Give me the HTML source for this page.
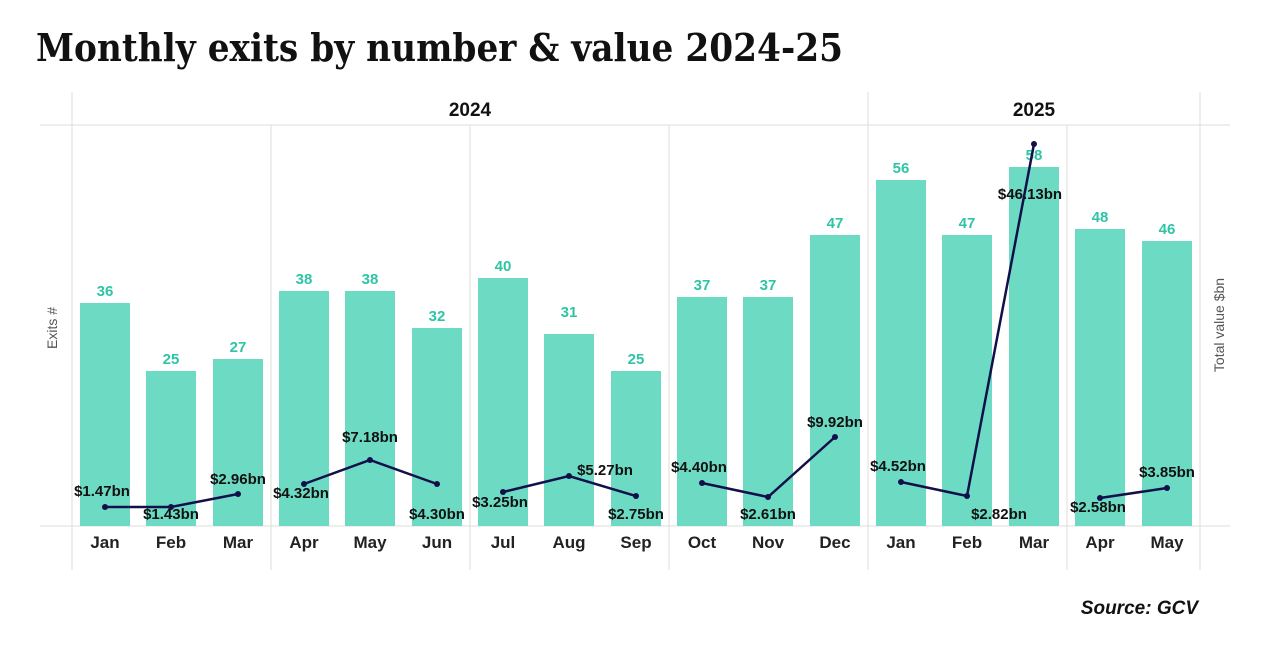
<!DOCTYPE html>
<html><head><style>
body{margin:0;background:#fff;}
svg text{font-family:"Liberation Sans",sans-serif;}
</style></head><body>
<svg width="1269" height="650" xmlns="http://www.w3.org/2000/svg">
<text x="36" y="61" font-weight="bold" font-size="38" textLength="807" lengthAdjust="spacingAndGlyphs" style="font-family:'DejaVu Serif',serif;font-style:normal" fill="#111">Monthly exits by number &amp; value 2024-25</text>
<g stroke="#ddd" stroke-width="1">
<line x1="40" y1="125" x2="1230" y2="125"/>
<line x1="40" y1="526" x2="1230" y2="526"/>
<line x1="72" y1="92" x2="72" y2="570"/>
<line x1="271" y1="125" x2="271" y2="570"/>
<line x1="470" y1="125" x2="470" y2="570"/>
<line x1="669" y1="125" x2="669" y2="570"/>
<line x1="868" y1="92" x2="868" y2="570"/>
<line x1="1067" y1="125" x2="1067" y2="570"/>
<line x1="1200" y1="92" x2="1200" y2="570"/>
</g>
<text x="470" y="116" text-anchor="middle" font-weight="bold" font-size="19" fill="#111">2024</text>
<text x="1034" y="116" text-anchor="middle" font-weight="bold" font-size="19" fill="#111">2025</text>
<g fill="#6ddbc4">
<rect x="80" y="303" width="50" height="223"/>
<rect x="146" y="371" width="50" height="155"/>
<rect x="213" y="359" width="50" height="167"/>
<rect x="279" y="291" width="50" height="235"/>
<rect x="345" y="291" width="50" height="235"/>
<rect x="412" y="328" width="50" height="198"/>
<rect x="478" y="278" width="50" height="248"/>
<rect x="544" y="334" width="50" height="192"/>
<rect x="611" y="371" width="50" height="155"/>
<rect x="677" y="297" width="50" height="229"/>
<rect x="743" y="297" width="50" height="229"/>
<rect x="810" y="235" width="50" height="291"/>
<rect x="876" y="180" width="50" height="346"/>
<rect x="942" y="235" width="50" height="291"/>
<rect x="1009" y="167" width="50" height="359"/>
<rect x="1075" y="229" width="50" height="297"/>
<rect x="1142" y="241" width="50" height="285"/>
</g>
<g fill="#2ec4a5" font-weight="bold" font-size="15" text-anchor="middle">
<text x="105" y="296">36</text><text x="171" y="364">25</text><text x="238" y="352">27</text>
<text x="304" y="284">38</text><text x="370" y="284">38</text><text x="437" y="321">32</text>
<text x="503" y="271">40</text><text x="569" y="317">31</text><text x="636" y="364">25</text>
<text x="702" y="290">37</text><text x="768" y="290">37</text><text x="835" y="228">47</text>
<text x="901" y="173">56</text><text x="967" y="228">47</text><text x="1034" y="160">58</text>
<text x="1100" y="222">48</text><text x="1167" y="234">46</text>
</g>
<g stroke="#12104a" stroke-width="2.5" fill="none">
<polyline points="105,507 171,507 238,494"/>
<polyline points="304,484 370,460 437,484"/>
<polyline points="503,492 569,476 636,496"/>
<polyline points="702,483 768,497 835,437"/>
<polyline points="901,482 967,496 1034,144"/>
<polyline points="1100,498 1167,488"/>
</g>
<g fill="#12104a">
<circle cx="105" cy="507" r="3"/><circle cx="171" cy="507" r="3"/><circle cx="238" cy="494" r="3"/>
<circle cx="304" cy="484" r="3"/><circle cx="370" cy="460" r="3"/><circle cx="437" cy="484" r="3"/>
<circle cx="503" cy="492" r="3"/><circle cx="569" cy="476" r="3"/><circle cx="636" cy="496" r="3"/>
<circle cx="702" cy="483" r="3"/><circle cx="768" cy="497" r="3"/><circle cx="835" cy="437" r="3"/>
<circle cx="901" cy="482" r="3"/><circle cx="967" cy="496" r="3"/><circle cx="1034" cy="144" r="3"/>
<circle cx="1100" cy="498" r="3"/><circle cx="1167" cy="488" r="3"/>
</g>
<g fill="#111" font-weight="bold" font-size="15" text-anchor="middle">
<text x="102" y="496">$1.47bn</text><text x="171" y="519">$1.43bn</text><text x="238" y="484">$2.96bn</text>
<text x="301" y="498">$4.32bn</text><text x="370" y="442">$7.18bn</text><text x="437" y="519">$4.30bn</text>
<text x="500" y="507">$3.25bn</text><text x="605" y="475">$5.27bn</text><text x="636" y="519">$2.75bn</text>
<text x="699" y="472">$4.40bn</text><text x="768" y="519">$2.61bn</text><text x="835" y="427">$9.92bn</text>
<text x="898" y="471">$4.52bn</text><text x="999" y="519">$2.82bn</text><text x="1030" y="199">$46.13bn</text>
<text x="1098" y="512">$2.58bn</text><text x="1167" y="477">$3.85bn</text>
</g>
<g fill="#222" font-weight="bold" font-size="17" text-anchor="middle">
<text x="105" y="548">Jan</text><text x="171" y="548">Feb</text><text x="238" y="548">Mar</text>
<text x="304" y="548">Apr</text><text x="370" y="548">May</text><text x="437" y="548">Jun</text>
<text x="503" y="548">Jul</text><text x="569" y="548">Aug</text><text x="636" y="548">Sep</text>
<text x="702" y="548">Oct</text><text x="768" y="548">Nov</text><text x="835" y="548">Dec</text>
<text x="901" y="548">Jan</text><text x="967" y="548">Feb</text><text x="1034" y="548">Mar</text>
<text x="1100" y="548">Apr</text><text x="1167" y="548">May</text>
</g>
<text transform="translate(57,328) rotate(-90)" text-anchor="middle" font-size="14" fill="#555">Exits #</text>
<text transform="translate(1224,325) rotate(-90)" text-anchor="middle" font-size="14" fill="#555">Total value $bn</text>
<text x="1198" y="614" text-anchor="end" font-weight="bold" font-style="italic" font-size="19" fill="#111">Source: GCV</text>
</svg>
</body></html>
